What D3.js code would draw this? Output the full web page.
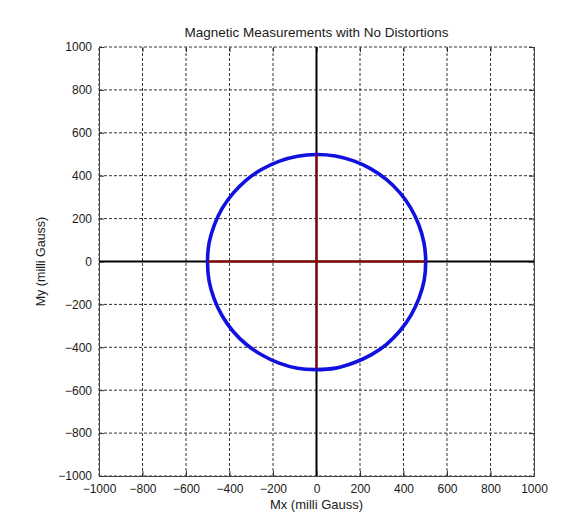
<!DOCTYPE html>
<html><head><meta charset="utf-8">
<script src="https://cdn.jsdelivr.net/npm/d3@7"></script>
<style>body{margin:0;background:#fff}svg{display:block}text{font-family:"Liberation Sans",Arial,sans-serif;fill:#1a1a1a}</style>
</head><body>
<script>
const title = "Magnetic Measurements with No Distortions";
const xLabel = "Mx (milli Gauss)";
const yLabel = "My (milli Gauss)";
const tickValues = [-1000,-800,-600,-400,-200,0,200,400,600,800,1000];
// measured points (milli Gauss)
const mx = [502,494,470,433,383,321,250,171,87,0,-87,-170,-249,-320,-382,-433,-470,-494,-501,-494,-471,-434,-384,-322,-251,-172,-87,0,88,172,251,322,384,434,471,495];
const my = [2,88,172,250,321,383,432,469,492,499,491,468,431,382,320,249,170,86,-2,-90,-173,-253,-325,-387,-436,-474,-498,-504,-497,-472,-435,-386,-323,-251,-172,-88];
const refX = [-500,500]; // red reference segment extents
const refY = [-500,500];

const W=567,H=523;
const m={l:99,r:33,t:47,b:47};
const svg=d3.select("body").append("svg").attr("width",W).attr("height",H);
const x=d3.scaleLinear().domain([-1000,1000]).range([m.l,W-m.r]);
const y=d3.scaleLinear().domain([-1000,1000]).range([H-m.b,m.t]);

const g=svg.append("g");
// grid
g.selectAll(".gx").data(tickValues).enter().append("line")
 .attr("x1",d=>x(d)).attr("x2",d=>x(d)).attr("y1",y(-1000)).attr("y2",y(1000))
 .attr("stroke","#333").attr("stroke-width",1).attr("stroke-dasharray","3,2");
g.selectAll(".gy").data(tickValues).enter().append("line")
 .attr("y1",d=>y(d)).attr("y2",d=>y(d)).attr("x1",x(-1000)).attr("x2",x(1000))
 .attr("stroke","#333").attr("stroke-width",1).attr("stroke-dasharray","3,2");

// axes
const xa=d3.axisBottom(x).tickValues(tickValues).tickSize(-5).tickPadding(8).tickFormat(d3.format("d"));
const ya=d3.axisLeft(y).tickValues(tickValues).tickSize(-5).tickPadding(7).tickFormat(d3.format("d"));
const gx=svg.append("g").attr("transform",`translate(0,${y(-1000)})`).call(xa);
const gy=svg.append("g").attr("transform",`translate(${x(-1000)},0)`).call(ya);
const gxt=svg.append("g").attr("transform",`translate(0,${y(1000)})`).call(d3.axisTop(x).tickValues(tickValues).tickSize(-5).tickFormat(""));
const gyr=svg.append("g").attr("transform",`translate(${x(1000)},0)`).call(d3.axisRight(y).tickValues(tickValues).tickSize(-5).tickFormat(""));
[gx,gy,gxt,gyr].forEach(a=>{a.selectAll("text").style("font-size","12px").style("font-family","Liberation Sans, Arial, sans-serif").attr("fill","#1a1a1a");
 a.selectAll(".tick line").attr("stroke","#333");});
gxt.select(".domain").remove();
gx.select(".domain").attr("stroke","#444");
gy.select(".domain").attr("stroke","#444");
gyr.select(".domain").attr("stroke","#444");

// zero axes (black)
svg.append("line").attr("x1",x(-1000)).attr("x2",x(1000)).attr("y1",y(0)).attr("y2",y(0)).attr("stroke","#000").attr("stroke-width",2);
svg.append("line").attr("x1",x(0)).attr("x2",x(0)).attr("y1",y(-1000)).attr("y2",y(1000)).attr("stroke","#000").attr("stroke-width",2);

// measurement circle
const pts=mx.map((v,i)=>[v,my[i]]);
svg.append("path").datum(pts)
 .attr("d",d3.line().x(d=>x(d[0])).y(d=>y(d[1])).curve(d3.curveCardinalClosed))
 .attr("fill","none").attr("stroke","#1010e0").attr("stroke-width",3.6);

// red reference lines
svg.append("line").attr("x1",x(refX[0])).attr("x2",x(refX[1])).attr("y1",y(0)).attr("y2",y(0)).attr("stroke","#8b0000").attr("stroke-width",2);
svg.append("line").attr("x1",x(0)).attr("x2",x(0)).attr("y1",y(refY[0])).attr("y2",y(refY[1])).attr("stroke","#8b0000").attr("stroke-width",2);

// labels
svg.append("text").attr("x",(x(-1000)+x(1000))/2).attr("y",37).attr("text-anchor","middle").style("font-size","13.5px").text(title);
svg.append("text").attr("x",(x(-1000)+x(1000))/2).attr("y",509).attr("text-anchor","middle").style("font-size","13px").text(xLabel);
svg.append("text").attr("transform",`translate(45,${(y(-1000)+y(1000))/2}) rotate(-90)`).attr("text-anchor","middle").style("font-size","12.5px").text(yLabel);
</script>
</body></html>
